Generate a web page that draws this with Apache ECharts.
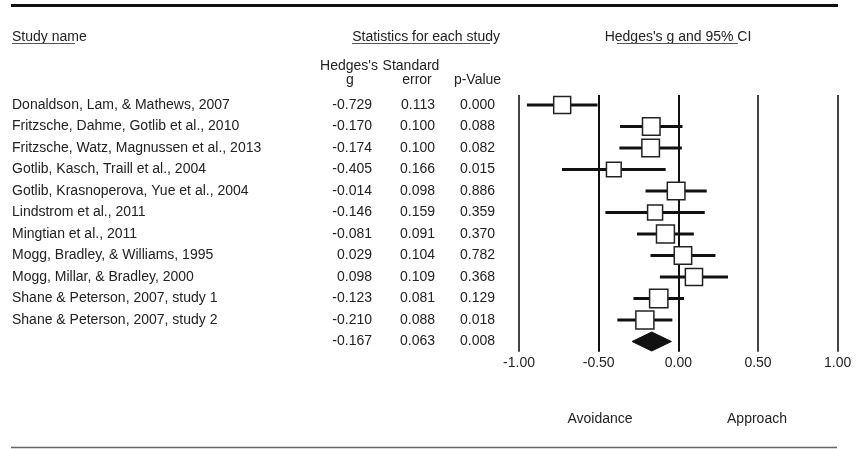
<!DOCTYPE html>
<html>
<head>
<meta charset="utf-8">
<script src="https://cdn.jsdelivr.net/npm/echarts@6/dist/echarts.min.js"></script>
<style>
  html, body { margin: 0; padding: 0; background: #fff; }
  #chart { width: 856px; height: 449px; }
</style>
</head>
<body>
<div id="chart"></div>
<script>
// Forest plot: Hedges's g per study with 95% CI, random-effects summary
const studyNames = [
  'Donaldson, Lam, & Mathews, 2007',
  'Fritzsche, Dahme, Gotlib et al., 2010',
  'Fritzsche, Watz, Magnussen et al., 2013',
  'Gotlib, Kasch, Traill et al., 2004',
  'Gotlib, Krasnoperova, Yue et al., 2004',
  'Lindstrom et al., 2011',
  'Mingtian et al., 2011',
  'Mogg, Bradley, & Williams, 1995',
  'Mogg, Millar, & Bradley, 2000',
  'Shane & Peterson, 2007, study 1',
  'Shane & Peterson, 2007, study 2'
];
const hedgesG = [-0.729, -0.170, -0.174, -0.405, -0.014, -0.146, -0.081, 0.029, 0.098, -0.123, -0.210];
const stdErr  = [0.113, 0.100, 0.100, 0.166, 0.098, 0.159, 0.091, 0.104, 0.109, 0.081, 0.088];
const pValues = [0.000, 0.088, 0.082, 0.015, 0.886, 0.359, 0.370, 0.782, 0.368, 0.129, 0.018];

const summaryG = -0.167;
const summarySE = 0.063;
const summaryP = 0.008;

const axisMin = -1.0, axisMax = 1.0, axisStep = 0.5;

const FONT = '"Liberation Sans", Arial, sans-serif';
const FS = 14;
const TXT = '#222';

// DerSimonian-Laird between-study variance, used for the random-effects box weights
function dlTau2(g, se) {
  const w = se.map(s => 1 / (s * s));
  const sw = w.reduce((a, b) => a + b, 0);
  const mean = w.reduce((a, wi, i) => a + wi * g[i], 0) / sw;
  const q = w.reduce((a, wi, i) => a + wi * (g[i] - mean) ** 2, 0);
  const c = sw - w.reduce((a, wi) => a + wi * wi, 0) / sw;
  return Math.max(0, (q - (g.length - 1)) / c);
}
const tau2 = dlTau2(hedgesG, stdErr);

const studyData = hedgesG.map((g, i) => [i, g, stdErr[i], 1 / (stdErr[i] ** 2 + tau2)]);
const summaryRow = studyNames.length;
const tableData = studyNames.map((n, i) => [i, hedgesG[i], stdErr[i], pValues[i], n]);
tableData.push([summaryRow, summaryG, summarySE, summaryP, '']);

const chart = echarts.init(document.getElementById('chart'), null, { renderer: 'canvas' });

const textStyle = (extra) => Object.assign({ fill: TXT, font: FS + 'px ' + FONT, textVerticalAlign: 'middle' }, extra);

chart.setOption({
  animation: false,
  backgroundColor: '#fff',
  grid: { left: 519, right: 18.3, top: 95, height: 256.7, containLabel: false },
  xAxis: {
    type: 'value', min: axisMin, max: axisMax, interval: axisStep,
    axisLine: { show: false }, axisTick: { show: false },
    splitLine: { show: true, lineStyle: { color: ['#444', '#111', '#111', '#444', '#444'], width: 2 } },
    axisLabel: { margin: 4, fontSize: FS, fontFamily: FONT, color: TXT, formatter: v => v.toFixed(2) }
  },
  yAxis: { type: 'value', inverse: true, min: -0.465, max: 11.474, show: false },
  series: [
    {
      // CI whiskers and weight-scaled boxes
      type: 'custom', clip: false, data: studyData,
      renderItem: (params, api) => {
        const row = api.value(0), g = api.value(1), se = api.value(2), w = api.value(3);
        const lo = api.coord([g - 1.96 * se, row]);
        const hi = api.coord([g + 1.96 * se, row]);
        const c = api.coord([g, row]);
        const side = 3.6 * Math.sqrt(w);
        return {
          type: 'group', children: [
            { type: 'line', shape: { x1: lo[0], y1: lo[1], x2: hi[0], y2: hi[1] }, style: { stroke: '#111', lineWidth: 3 } },
            { type: 'rect', shape: { x: c[0] - side / 2, y: c[1] - side / 2, width: side, height: side }, style: { fill: '#fff', stroke: '#222', lineWidth: 1.5 } }
          ]
        };
      }
    },
    {
      // pooled estimate diamond
      type: 'custom', clip: false, data: [[summaryRow, summaryG, summarySE]],
      renderItem: (params, api) => {
        const row = api.value(0), g = api.value(1), se = api.value(2);
        const lo = api.coord([g - 1.96 * se, row]);
        const hi = api.coord([g + 1.96 * se, row]);
        const c = api.coord([g, row]);
        const h = 9.5;
        return {
          type: 'polygon',
          shape: { points: [[lo[0], c[1]], [c[0], c[1] - h], [hi[0], c[1]], [c[0], c[1] + h]] },
          style: { fill: '#111', stroke: '#111', lineWidth: 1 }
        };
      }
    },
    {
      // statistics table, one line per study
      type: 'custom', clip: false, data: tableData,
      renderItem: (params, api) => {
        const row = api.value(0);
        const y = api.coord([0, row])[1];
        const item = tableData[params.dataIndex];
        return {
          type: 'group', children: [
            { type: 'text', style: textStyle({ x: 12, y: y, text: item[4], textAlign: 'left' }) },
            { type: 'text', style: textStyle({ x: 372, y: y, text: item[1].toFixed(3), textAlign: 'right' }) },
            { type: 'text', style: textStyle({ x: 435, y: y, text: item[2].toFixed(3), textAlign: 'right' }) },
            { type: 'text', style: textStyle({ x: 495, y: y, text: item[3].toFixed(3), textAlign: 'right' }) }
          ]
        };
      }
    }
  ],
  graphic: [
    { type: 'line', shape: { x1: 11, y1: 5.5, x2: 838, y2: 5.5 }, style: { stroke: '#111', lineWidth: 3 } },
    { type: 'line', shape: { x1: 11, y1: 447.5, x2: 837, y2: 447.5 }, style: { stroke: '#666', lineWidth: 1.5 } },

    { type: 'text', style: textStyle({ x: 12, y: 37, text: 'Study name', textAlign: 'left' }) },
    { type: 'line', shape: { x1: 12, y1: 43.5, x2: 75, y2: 43.5 }, style: { stroke: '#555', lineWidth: 1 } },
    { type: 'text', style: textStyle({ x: 500, y: 37, text: 'Statistics for each study', textAlign: 'right' }) },
    { type: 'line', shape: { x1: 352, y1: 43.5, x2: 490, y2: 43.5 }, style: { stroke: '#555', lineWidth: 1 } },
    { type: 'text', style: textStyle({ x: 678, y: 37, text: "Hedges's g and 95% CI", textAlign: 'center' }) },
    { type: 'line', shape: { x1: 617, y1: 43.5, x2: 738, y2: 43.5 }, style: { stroke: '#555', lineWidth: 1 } },

    { type: 'text', style: textStyle({ x: 349, y: 66, text: "Hedges's", textAlign: 'center' }) },
    { type: 'text', style: textStyle({ x: 350, y: 80, text: 'g', textAlign: 'center' }) },
    { type: 'text', style: textStyle({ x: 411, y: 66, text: 'Standard', textAlign: 'center' }) },
    { type: 'text', style: textStyle({ x: 417, y: 80, text: 'error', textAlign: 'center' }) },
    { type: 'text', style: textStyle({ x: 477.5, y: 80, text: 'p-Value', textAlign: 'center' }) },

    { type: 'text', style: textStyle({ x: 600, y: 419, text: 'Avoidance', textAlign: 'center' }) },
    { type: 'text', style: textStyle({ x: 757, y: 419, text: 'Approach', textAlign: 'center' }) }
  ]
});
</script>
</body>
</html>
